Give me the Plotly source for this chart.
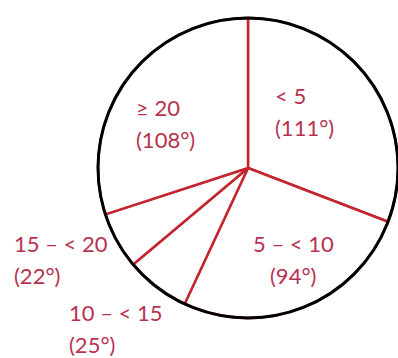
import plotly.graph_objects as go

# Data
categories = ["< 5", "5 \u2013 < 10", "10 \u2013 < 15", "15 \u2013 < 20", "\u2265 20"]
degrees = [111, 94, 25, 22, 108]

W, H = 398, 358
# pie geometry in pixels
cx, cy, r = 248, 168, 150

def px(x):
    return x / W

def py(y):
    return 1 - y / H

fig = go.Figure()
fig.add_trace(go.Pie(
    labels=categories,
    values=degrees,
    sort=False,
    direction="clockwise",
    rotation=0,
    textinfo="none",
    hoverinfo="label+value",
    marker=dict(colors=["white"] * len(categories),
                line=dict(color="#c3262f", width=2.5)),
    domain=dict(x=[px(cx - r), px(cx + r)], y=[py(cy + r), py(cy - r)]),
    showlegend=False,
))

# black outer rim
fig.add_shape(type="circle", xref="paper", yref="paper",
              x0=px(cx - r), x1=px(cx + r), y0=py(cy + r), y1=py(cy - r),
              line=dict(color="black", width=3), fillcolor="rgba(0,0,0,0)")

# label placement (pixel positions: x, y of first line, anchor)
label_pos = [
    (273, 95, "left"),
    (293, 243, "center"),
    (67, 312, "left"),
    (12, 243, "left"),
    (134, 107, "left"),
]
line_gap = 32
txt_color = "#b83250"
font = dict(family="Lato", size=22, color=txt_color)

for name, deg, (x, y, anc) in zip(categories, degrees, label_pos):
    fig.add_annotation(x=px(x), y=py(y), xref="paper", yref="paper",
                       text=name, showarrow=False, xanchor=anc, yanchor="middle", font=font)
    fig.add_annotation(x=px(x), y=py(y + line_gap), xref="paper", yref="paper",
                       text=f"({deg}\u00b0)", showarrow=False, xanchor=anc, yanchor="middle", font=font)

fig.update_layout(
    width=W, height=H,
    margin=dict(l=0, r=0, t=0, b=0),
    paper_bgcolor="white", plot_bgcolor="white",
)

fig.write_html("out.html",
               config={"displayModeBar": False},
               post_script="document.body.style.margin='0';document.body.style.overflow='hidden';")
